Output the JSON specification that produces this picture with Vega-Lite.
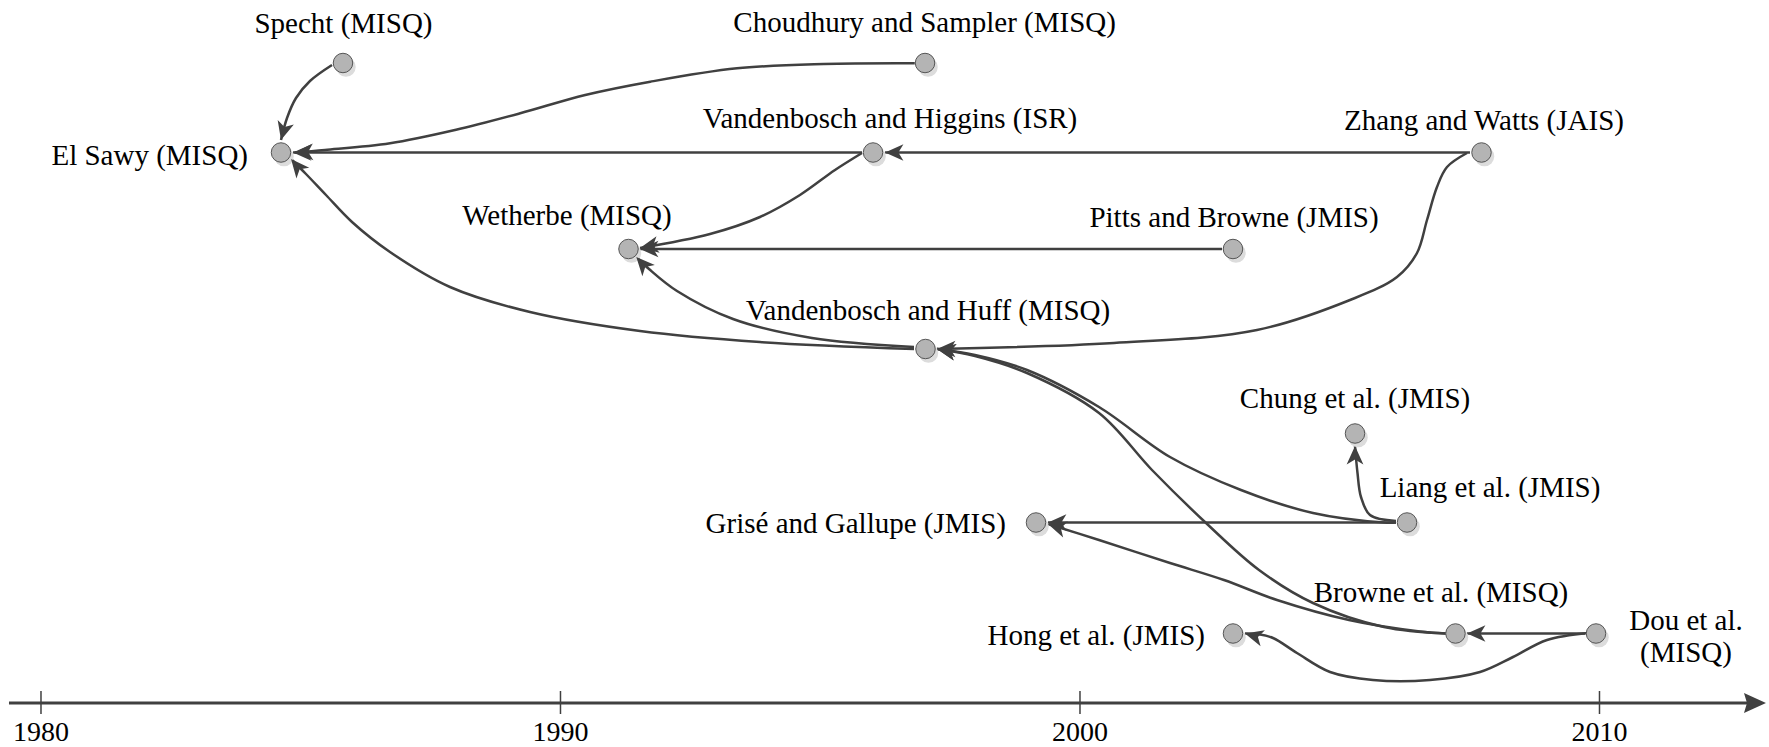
{
  "$schema": "https://vega.github.io/schema/vega-lite/v6.json",
  "width": 1769,
  "height": 747,
  "autosize": {"type": "fit", "contains": "padding"},
  "padding": 0,
  "background": "white",
  "config": {"view": {"stroke": null}},
  "datasets": {
    "nodes": [
      {"name": "Specht", "year": 1985.813, "level": 63},
      {"name": "El Sawy", "year": 1984.620, "level": 152.5},
      {"name": "Choudhury and Sampler", "year": 1997.017, "level": 63},
      {"name": "Vandenbosch and Higgins", "year": 1996.016, "level": 152.5},
      {"name": "Zhang and Watts", "year": 2007.729, "level": 152.5},
      {"name": "Wetherbe", "year": 1991.309, "level": 249},
      {"name": "Pitts and Browne", "year": 2002.945, "level": 249},
      {"name": "Vandenbosch and Huff", "year": 1997.026, "level": 349},
      {"name": "Chung et al.", "year": 2005.294, "level": 433.5},
      {"name": "Liang et al.", "year": 2006.295, "level": 522.5},
      {"name": "Grisé and Gallupe", "year": 1999.153, "level": 522.5},
      {"name": "Browne et al.", "year": 2007.228, "level": 633.5},
      {"name": "Dou et al.", "year": 2009.933, "level": 633.5},
      {"name": "Hong et al.", "year": 2002.945, "level": 633.5}
    ],
    "edges": [
      {"edge": "A", "order": 1, "year": 1985.602, "level": 65},
      {"edge": "A", "order": 2, "year": 1985.178, "level": 81},
      {"edge": "A", "order": 3, "year": 1984.909, "level": 98},
      {"edge": "A", "order": 4, "year": 1984.736, "level": 118},
      {"edge": "A", "order": 5, "year": 1984.620, "level": 140, "arrow": 105},

      {"edge": "B", "order": 1, "year": 1996.820, "level": 63.3},
      {"edge": "B", "order": 2, "year": 1995.067, "level": 64},
      {"edge": "B", "order": 3, "year": 1993.398, "level": 68.3},
      {"edge": "B", "order": 4, "year": 1991.729, "level": 81.7},
      {"edge": "B", "order": 5, "year": 1990.476, "level": 95},
      {"edge": "B", "order": 6, "year": 1989.225, "level": 113.3},
      {"edge": "B", "order": 7, "year": 1987.971, "level": 130},
      {"edge": "B", "order": 8, "year": 1986.720, "level": 143.3},
      {"edge": "B", "order": 9, "year": 1985.467, "level": 150},
      {"edge": "B", "order": 10, "year": 1984.884, "level": 152.5, "arrow": 178},

      {"edge": "C", "order": 1, "year": 1995.804, "level": 152.5},
      {"edge": "C", "order": 2, "year": 1984.851, "level": 152.5, "arrow": 180},

      {"edge": "D", "order": 1, "year": 2007.507, "level": 152.5},
      {"edge": "D", "order": 2, "year": 1996.247, "level": 152.5, "arrow": 180},

      {"edge": "E", "order": 1, "year": 2007.450, "level": 153},
      {"edge": "E", "order": 2, "year": 2007.065, "level": 167},
      {"edge": "E", "order": 3, "year": 2006.872, "level": 187},
      {"edge": "E", "order": 4, "year": 2006.680, "level": 220},
      {"edge": "E", "order": 5, "year": 2006.487, "level": 253},
      {"edge": "E", "order": 6, "year": 2006.102, "level": 277},
      {"edge": "E", "order": 7, "year": 2005.198, "level": 300},
      {"edge": "E", "order": 8, "year": 2003.407, "level": 330},
      {"edge": "E", "order": 9, "year": 2000.655, "level": 343},
      {"edge": "E", "order": 10, "year": 1997.248, "level": 349, "arrow": 180},

      {"edge": "F", "order": 1, "year": 1995.804, "level": 153},
      {"edge": "F", "order": 2, "year": 1995.284, "level": 170},
      {"edge": "F", "order": 3, "year": 1994.610, "level": 195},
      {"edge": "F", "order": 4, "year": 1993.840, "level": 217},
      {"edge": "F", "order": 5, "year": 1992.878, "level": 234},
      {"edge": "F", "order": 6, "year": 1991.531, "level": 248, "arrow": 169},

      {"edge": "G", "order": 1, "year": 2002.734, "level": 249},
      {"edge": "G", "order": 2, "year": 1991.531, "level": 249, "arrow": 180},

      {"edge": "H", "order": 1, "year": 1996.805, "level": 349},
      {"edge": "H", "order": 2, "year": 1993.840, "level": 342},
      {"edge": "H", "order": 3, "year": 1991.531, "level": 331},
      {"edge": "H", "order": 4, "year": 1989.413, "level": 312},
      {"edge": "H", "order": 5, "year": 1987.873, "level": 287},
      {"edge": "H", "order": 6, "year": 1986.718, "level": 252},
      {"edge": "H", "order": 7, "year": 1985.987, "level": 222},
      {"edge": "H", "order": 8, "year": 1985.486, "level": 195},
      {"edge": "H", "order": 9, "year": 1985.101, "level": 174},
      {"edge": "H", "order": 10, "year": 1984.813, "level": 159, "arrow": 230},

      {"edge": "I", "order": 1, "year": 1996.805, "level": 347},
      {"edge": "I", "order": 2, "year": 1994.841, "level": 338},
      {"edge": "I", "order": 3, "year": 1993.321, "level": 319},
      {"edge": "I", "order": 4, "year": 1992.243, "level": 291},
      {"edge": "I", "order": 5, "year": 1991.704, "level": 269},
      {"edge": "I", "order": 6, "year": 1991.459, "level": 257, "arrow": 228},

      {"edge": "J", "order": 1, "year": 2006.083, "level": 522.5},
      {"edge": "J", "order": 2, "year": 2005.852, "level": 522.5},
      {"edge": "J", "order": 3, "year": 2004.485, "level": 513},
      {"edge": "J", "order": 4, "year": 2003.099, "level": 490},
      {"edge": "J", "order": 5, "year": 2001.733, "level": 457},
      {"edge": "J", "order": 6, "year": 2000.366, "level": 407},
      {"edge": "J", "order": 7, "year": 1998.980, "level": 370},
      {"edge": "J", "order": 8, "year": 1997.979, "level": 355},
      {"edge": "J", "order": 9, "year": 1997.248, "level": 349, "arrow": 190},

      {"edge": "K", "order": 1, "year": 2007.045, "level": 633.5},
      {"edge": "K", "order": 2, "year": 2005.852, "level": 627},
      {"edge": "K", "order": 3, "year": 2004.485, "level": 603},
      {"edge": "K", "order": 4, "year": 2003.446, "level": 570},
      {"edge": "K", "order": 5, "year": 2002.426, "level": 523},
      {"edge": "K", "order": 6, "year": 2001.386, "level": 470},
      {"edge": "K", "order": 7, "year": 2000.366, "level": 413},
      {"edge": "K", "order": 8, "year": 1998.980, "level": 373},
      {"edge": "K", "order": 9, "year": 1997.979, "level": 356},
      {"edge": "K", "order": 10, "year": 1997.248, "level": 349, "arrow": 190},

      {"edge": "L", "order": 1, "year": 2006.083, "level": 522.5},
      {"edge": "L", "order": 2, "year": 1999.384, "level": 522.5, "arrow": 180},

      {"edge": "M", "order": 1, "year": 2007.045, "level": 633.5},
      {"edge": "M", "order": 2, "year": 2006.545, "level": 631.5},
      {"edge": "M", "order": 3, "year": 2005.178, "level": 620},
      {"edge": "M", "order": 4, "year": 2003.792, "level": 600},
      {"edge": "M", "order": 5, "year": 2002.772, "level": 580},
      {"edge": "M", "order": 6, "year": 2001.733, "level": 563},
      {"edge": "M", "order": 7, "year": 2000.366, "level": 540},
      {"edge": "M", "order": 8, "year": 1999.384, "level": 524, "arrow": 197},

      {"edge": "N", "order": 1, "year": 2006.083, "level": 521},
      {"edge": "N", "order": 2, "year": 2005.583, "level": 515},
      {"edge": "N", "order": 3, "year": 2005.409, "level": 497},
      {"edge": "N", "order": 4, "year": 2005.342, "level": 473},
      {"edge": "N", "order": 5, "year": 2005.294, "level": 446, "arrow": 270},

      {"edge": "O", "order": 1, "year": 2009.721, "level": 633.5},
      {"edge": "O", "order": 2, "year": 2007.450, "level": 633.5, "arrow": 180},

      {"edge": "P", "order": 1, "year": 2009.779, "level": 633},
      {"edge": "P", "order": 2, "year": 2008.990, "level": 640},
      {"edge": "P", "order": 3, "year": 2008.335, "level": 657},
      {"edge": "P", "order": 4, "year": 2007.700, "level": 672},
      {"edge": "P", "order": 5, "year": 2006.737, "level": 680},
      {"edge": "P", "order": 6, "year": 2005.640, "level": 680},
      {"edge": "P", "order": 7, "year": 2004.813, "level": 672},
      {"edge": "P", "order": 8, "year": 2004.177, "level": 653},
      {"edge": "P", "order": 9, "year": 2003.715, "level": 638},
      {"edge": "P", "order": 10, "year": 2003.407, "level": 634},
      {"edge": "P", "order": 11, "year": 2003.176, "level": 633.5, "arrow": 195}
    ],
    "labels": [
      {"text": "Specht (MISQ)", "side": "above", "year": 1985.823, "level": 33},
      {"text": "Choudhury and Sampler (MISQ)", "side": "above", "year": 1997.009, "level": 32},
      {"text": "Vandenbosch and Higgins (ISR)", "side": "above", "year": 1996.343, "level": 128},
      {"text": "Zhang  and Watts (JAIS)", "side": "above", "year": 2007.777, "level": 130},
      {"text": "Wetherbe (MISQ)", "side": "above", "year": 1990.125, "level": 225},
      {"text": "Pitts and Browne (JMIS)", "side": "above", "year": 2002.965, "level": 227},
      {"text": "Vandenbosch and Huff (MISQ)", "side": "above", "year": 1997.074, "level": 320},
      {"text": "Chung et al. (JMIS)", "side": "above", "year": 2005.294, "level": 408},
      {"text": "Liang et al. (JMIS)", "side": "above", "year": 2007.892, "level": 497},
      {"text": "Browne et al. (MISQ)", "side": "above", "year": 2006.949, "level": 602},
      {"text": "Dou et al.\n(MISQ)", "side": "above", "year": 2011.665, "level": 630},
      {"text": "El Sawy (MISQ)", "side": "left", "year": 1983.985, "level": 165},
      {"text": "Grisé and Gallupe (JMIS)", "side": "left", "year": 1998.576, "level": 533},
      {"text": "Hong et al. (JMIS)", "side": "left", "year": 2002.406, "level": 645}
    ],
    "axisLine": [
      {"year": 1979.384, "level": 703},
      {"year": 2012.95, "level": 703}
    ],
    "axisArrow": [
      {"year": 2013.205, "level": 703}
    ],
    "ticks": [
      {"year": 1980, "level": 691, "level2": 714},
      {"year": 1990, "level": 691, "level2": 714},
      {"year": 2000, "level": 691, "level2": 714},
      {"year": 2010, "level": 691, "level2": 714}
    ],
    "tickLabels": [
      {"year": 1980, "level": 741, "label": "1980"},
      {"year": 1990, "level": 741, "label": "1990"},
      {"year": 2000, "level": 741, "label": "2000"},
      {"year": 2010, "level": 741, "label": "2010"}
    ]
  },
  "encoding": {
    "x": {"field": "year", "type": "quantitative", "scale": {"domain": [1979.211, 2013.263], "nice": false, "zero": false}, "axis": null},
    "y": {"field": "level", "type": "quantitative", "scale": {"domain": [0, 747], "reverse": true, "nice": false, "zero": false}, "axis": null}
  },
  "layer": [
    {
      "data": {"name": "axisLine"},
      "mark": {"type": "line", "color": "#404040", "strokeWidth": 3},
      "encoding": {}
    },
    {
      "data": {"name": "ticks"},
      "mark": {"type": "rule", "color": "#404040", "strokeWidth": 1.5},
      "encoding": {"y2": {"field": "level2"}}
    },
    {
      "data": {"name": "axisArrow"},
      "mark": {"type": "point", "shape": "M0,0L-2.2,-1L-1.9,0L-2.2,1Z", "size": 400, "filled": true, "color": "#404040", "opacity": 1, "angle": 0},
      "encoding": {}
    },
    {
      "data": {"name": "tickLabels"},
      "mark": {"type": "text", "font": "Liberation Serif", "fontSize": 28, "align": "center", "baseline": "alphabetic", "color": "#000000"},
      "encoding": {"text": {"field": "label"}}
    },
    {
      "data": {"name": "edges"},
      "mark": {"type": "line", "interpolate": "catmull-rom", "color": "#404040", "strokeWidth": 2.5},
      "encoding": {
        "detail": {"field": "edge"},
        "order": {"field": "order", "type": "quantitative"}
      }
    },
    {
      "data": {"name": "nodes"},
      "mark": {"type": "point", "shape": "circle", "size": 380, "filled": true, "color": "#dcdcdc", "opacity": 1, "xOffset": 3, "yOffset": 4},
      "encoding": {}
    },
    {
      "data": {"name": "nodes"},
      "mark": {"type": "point", "shape": "circle", "size": 380, "filled": true, "fill": "#b4b4b4", "stroke": "#555555", "strokeWidth": 1, "opacity": 1},
      "encoding": {}
    },
    {
      "data": {"name": "edges"},
      "transform": [{"filter": "isValid(datum.arrow)"}],
      "mark": {"type": "point", "shape": "M0,0L-2.2,-1L-1.6,0L-2.2,1Z", "size": 280, "filled": true, "color": "#404040", "opacity": 1},
      "encoding": {"angle": {"field": "arrow", "type": "quantitative", "scale": null}}
    },
    {
      "data": {"name": "labels"},
      "transform": [{"filter": "datum.side === 'above'"}],
      "mark": {"type": "text", "font": "Liberation Serif", "fontSize": 29, "align": "center", "baseline": "alphabetic", "lineBreak": "\n", "lineHeight": 32, "color": "#000000"},
      "encoding": {"text": {"field": "text"}}
    },
    {
      "data": {"name": "labels"},
      "transform": [{"filter": "datum.side === 'left'"}],
      "mark": {"type": "text", "font": "Liberation Serif", "fontSize": 29, "align": "right", "baseline": "alphabetic", "color": "#000000"},
      "encoding": {"text": {"field": "text"}}
    }
  ]
}
